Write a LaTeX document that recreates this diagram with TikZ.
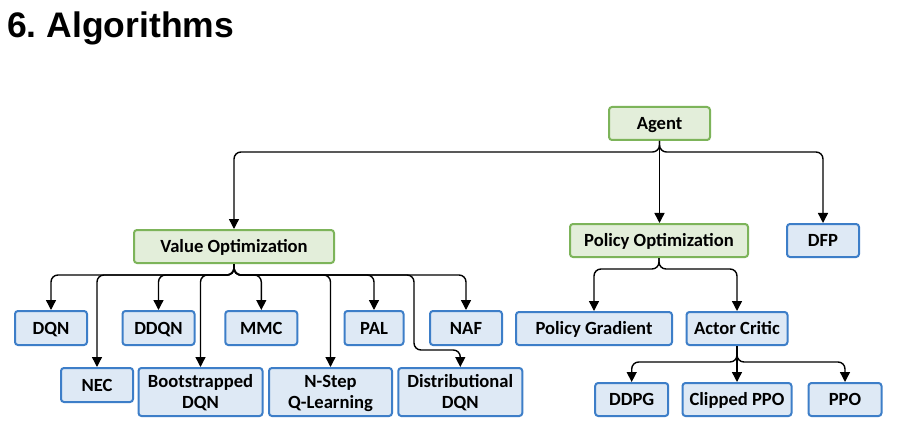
\documentclass[tikz,border=0pt]{standalone}
\usepackage{fontspec}
\setmainfont{Carlito}
\newfontfamily\titlefont{Liberation Sans}
\usetikzlibrary{arrows.meta}
\definecolor{gfill}{HTML}{E3EEDA}
\definecolor{gline}{HTML}{7DB45A}
\definecolor{bfill}{HTML}{DEE9F5}
\definecolor{bline}{HTML}{3D7EC8}
\newcommand\twolines[2]{\vtop{\halign{\hfil##\hfil\cr #1\cr #2\cr}}}
\begin{document}
\begin{tikzpicture}[x=1pt,y=-1pt,
 box/.style={draw, line width=2pt, rounded corners=3pt, inner sep=0pt, text height=12pt, text depth=0pt, font=\fontsize{18.6}{21}\selectfont\bfseries},
 twobox/.style={text depth=21pt},
 gbox/.style={box, draw=gline, fill=gfill},
 bbox/.style={box, draw=bline, fill=bfill},
 conn/.style={line width=1.4pt, rounded corners=7pt, -{Triangle[length=10pt,width=10pt]}}
]
\useasboundingbox[fill=white] (0,0) rectangle (919,433);
\node[anchor=base west, inner sep=0pt, font=\titlefont\bfseries\fontsize{35.5}{40}\selectfont] (title) at (7,38) {6.\ Algorithms};

\node[gbox, minimum width=101pt, minimum height=33pt] (agent) at (659.5,123.5) {Agent};
\node[gbox, minimum width=178pt, minimum height=33pt] (po) at (659,240.5) {Policy Optimization};
\node[bbox, minimum width=72pt, minimum height=33pt] (dfp) at (823,240.5) {DFP};
\node[gbox, minimum width=200pt, minimum height=33pt] (vo) at (234,246.5) {Value Optimization};

\node[bbox, minimum width=72pt, minimum height=34pt] (dqn) at (51,328) {DQN};
\node[bbox, minimum width=72pt, minimum height=34pt] (ddqn) at (158.5,328) {DDQN};
\node[bbox, minimum width=72pt, minimum height=34pt] (mmc) at (261.3,328) {MMC};
\node[bbox, minimum width=59pt, minimum height=34pt] (pal) at (374,328) {PAL};
\node[bbox, minimum width=72pt, minimum height=34pt] (naf) at (466,328) {NAF};
\node[bbox, minimum width=156pt, minimum height=33pt] (pg) at (594,328.5) {Policy Gradient};
\node[bbox, minimum width=101pt, minimum height=33pt] (ac) at (737,328.5) {Actor Critic};

\node[bbox, minimum width=72pt, minimum height=34pt] (nec) at (97,385) {NEC};
\node[bbox, twobox, minimum width=124pt, minimum height=48pt] (boot) at (200.5,392) {\twolines{Bootstrapped}{DQN}};
\node[bbox, twobox, minimum width=123pt, minimum height=48pt] (nstep) at (330.5,392) {\twolines{N-Step}{Q-Learning}};
\node[bbox, twobox, minimum width=124pt, minimum height=48pt] (dist) at (460.3,392) {\twolines{Distributional}{DQN}};

\node[bbox, minimum width=73pt, minimum height=33pt] (ddpg) at (631.7,399.5) {DDPG};
\node[bbox, minimum width=109pt, minimum height=33pt] (clipped) at (737,399.5) {Clipped PPO};
\node[bbox, minimum width=73pt, minimum height=33pt] (ppo) at (845,399.5) {PPO};

\draw[conn] (agent.south) -- ++(0,11) -| (vo.north);
\draw[conn] (agent.south) -- (agent.south |- po.north);
\draw[conn] (agent.south) -- ++(0,11) -| (dfp.north);

\foreach \n in {dqn,nec,ddqn,boot,mmc,nstep,pal,naf}
  \draw[conn] (vo.south) -- ++(0,11) -| (\n.north);
\draw[conn] (vo.south) -- ++(0,11) -| ++(180,75) -| (dist.north);

\foreach \n in {pg,ac}
  \draw[conn] (po.south) -- ++(0,11) -| (\n.north);

\draw[conn] (ac.south) -- ++(0,16) -| (ddpg.north);
\draw[conn] (ac.south) -- (ac.south |- clipped.north);
\draw[conn] (ac.south) -- ++(0,16) -| (ppo.north);
\end{tikzpicture}
\end{document}
